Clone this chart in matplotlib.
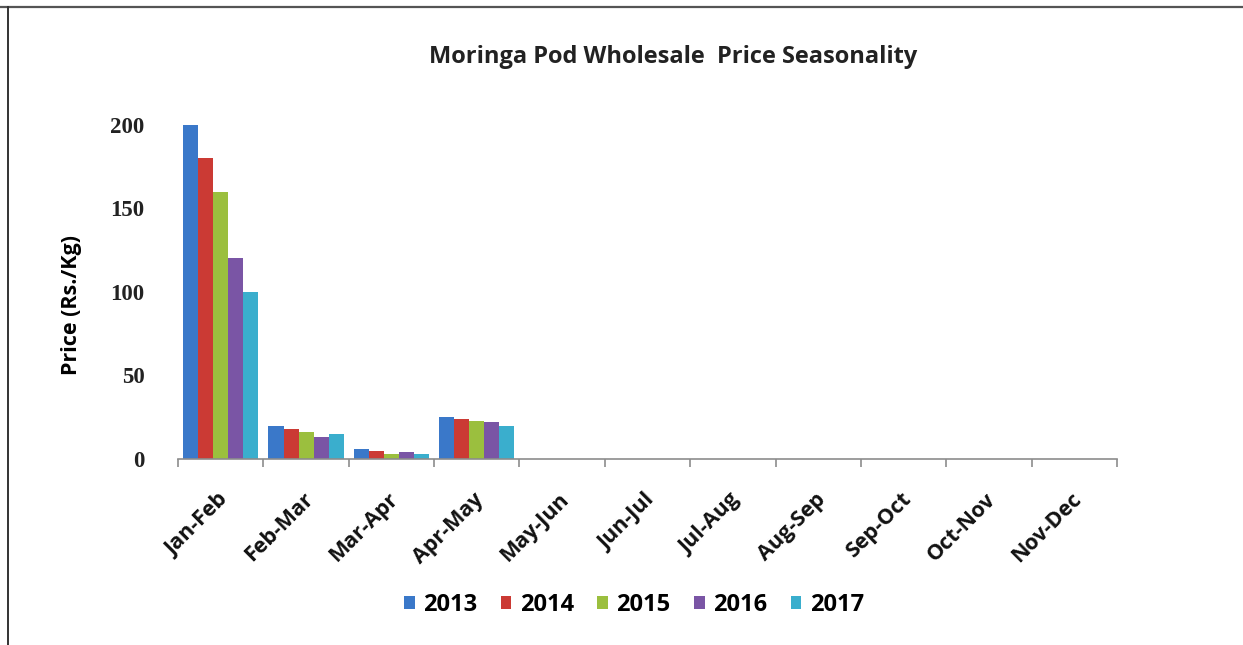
import numpy as np
import matplotlib.pyplot as plt
from matplotlib.lines import Line2D

periods = ['Jan-Feb', 'Feb-Mar', 'Mar-Apr', 'Apr-May', 'May-Jun', 'Jun-Jul',
           'Jul-Aug', 'Aug-Sep', 'Sep-Oct', 'Oct-Nov', 'Nov-Dec']
years = ['2013', '2014', '2015', '2016', '2017']

price_2013 = [200, 20, 6, 25, 0, 0, 0, 0, 0, 0, 0]
price_2014 = [180, 18, 5, 24, 0, 0, 0, 0, 0, 0, 0]
price_2015 = [160, 16, 3, 23, 0, 0, 0, 0, 0, 0, 0]
price_2016 = [120, 13, 4, 22, 0, 0, 0, 0, 0, 0, 0]
price_2017 = [100, 15, 3, 20, 0, 0, 0, 0, 0, 0, 0]

series = [price_2013, price_2014, price_2015, price_2016, price_2017]
colors = ['#3A78C9', '#CB3A34', '#9BBF3E', '#7A55A5', '#3AAECD']

sans = 'Open Sans'

fig = plt.figure(figsize=(12.43, 6.45), dpi=100)
ax = fig.add_axes([0.1432, 0.2884, 0.7554, 0.5183])

x = np.arange(len(periods))
width = 0.88 / len(series)
for i, (vals, col, yr) in enumerate(zip(series, colors, years)):
    offs = (i - (len(series) - 1) / 2) * width
    ax.bar(x + offs, vals, width, color=col, label=yr, linewidth=0)

ax.set_xlim(-0.5, len(periods) - 0.5)
ax.set_ylim(0, 200)
ax.set_yticks([0, 50, 100, 150, 200])

for s in ['top', 'right', 'left']:
    ax.spines[s].set_visible(False)
ax.spines['bottom'].set_color('#8C8C8C')
ax.spines['bottom'].set_linewidth(1.2)

# category separators as ticks on the x axis
ax.set_xticks(np.arange(len(periods) + 1) - 0.5, minor=False)
ax.set_xticklabels([])
ax.tick_params(axis='x', direction='out', length=6, color='#8C8C8C', width=1.2)
ax.tick_params(axis='y', length=0, pad=24)
for lab in ax.get_yticklabels():
    lab.set_fontfamily('Liberation Serif')
    lab.set_fontsize(16.5)
    lab.set_fontweight('bold')
    lab.set_color('#222222')

for xi, name in zip(x, periods):
    ax.text(xi - 0.04, -18, name, rotation=45, ha='right', va='top',
            rotation_mode='anchor', fontsize=15.5, fontweight='bold',
            family=sans, color='#111111')

ax.set_ylabel('Price (Rs./Kg)', fontsize=15.5, fontweight='bold', family=sans)
ax.yaxis.set_label_coords(-0.102, 0.462)

fig.text(0.5415, 0.911, 'Moringa Pod Wholesale  Price Seasonality',
         ha='center', va='center', fontsize=17, fontweight='bold',
         family=sans, color='#222222')

leg = fig.legend(loc='center', bbox_to_anchor=(0.51, 0.062), ncol=5,
                 frameon=False, handlelength=0.45, handleheight=0.45,
                 handletextpad=0.35, columnspacing=1.0,
                 prop={'family': sans, 'weight': 'bold', 'size': 17})

# outer frame edges
fig.add_artist(Line2D([0, 1], [1 - 7 / 645, 1 - 7 / 645], color='#555555',
                      linewidth=1.6, transform=fig.transFigure))
fig.add_artist(Line2D([8 / 1243, 8 / 1243], [0, 1 - 7 / 645], color='#333333',
                      linewidth=1.4, transform=fig.transFigure))

fig.savefig('out.png', dpi=100)
